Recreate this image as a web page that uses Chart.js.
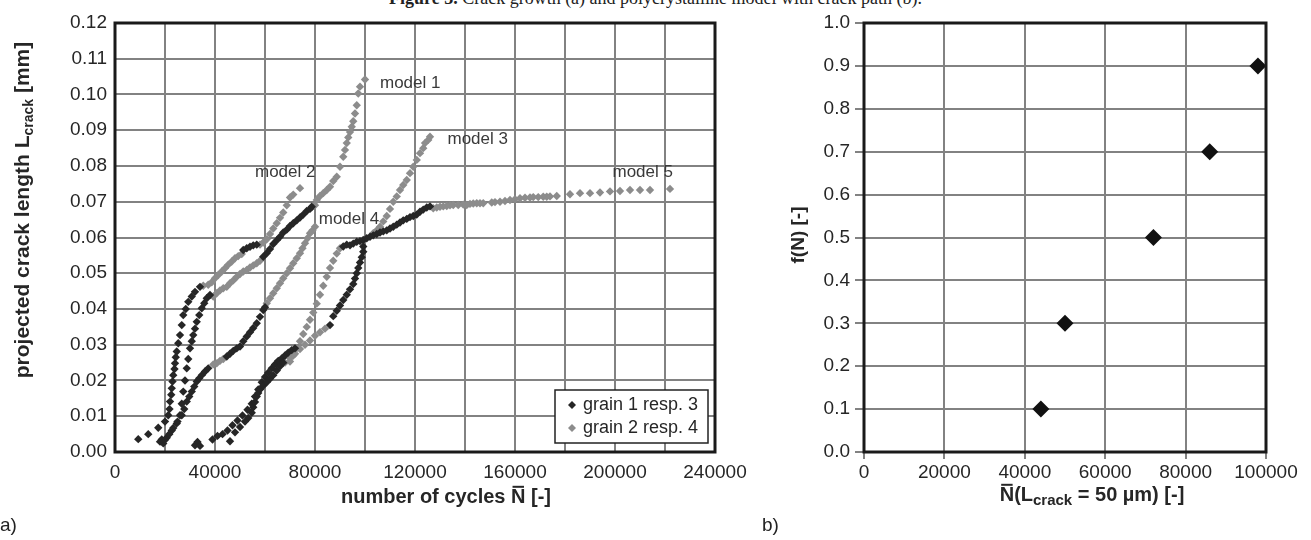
<!DOCTYPE html>
<html>
<head>
<meta charset="utf-8">
<script src="https://cdn.jsdelivr.net/npm/chart.js@4"></script>
<style>
  body { margin: 0; background: #fff; width: 1311px; height: 540px; overflow: hidden; position: relative; }
  #caption { position: absolute; left: 0; top: -12px; width: 1311px; text-align: center;
             font-family: "Liberation Serif", serif; font-size: 18px; color: #222; white-space: nowrap; }
  #wrapA { position: absolute; left: 0; top: 0; }
  #wrapB { position: absolute; left: 760px; top: 0; }
  .tag { position: absolute; font-family: "Liberation Sans", Arial, sans-serif; font-size: 19px; color: #222; }
</style>
</head>
<body>
<div id="caption"><b>Figure 3.</b> Crack growth (a) and polycrystalline model with crack path (b).</div>
<div id="wrapA"><canvas id="chartA" width="760" height="540"></canvas></div>
<div id="wrapB"><canvas id="chartB" width="551" height="540"></canvas></div>
<div class="tag" style="left:0px; top:514px;">a)</div>
<div class="tag" style="left:762px; top:514px;">b)</div>
<script>
// ---- panel a: crack length vs cycles, one array per curve segment ----
// dark = grain 1 resp. 3
const m1g1 = [[9300,0.0036],[13300,0.005],[17300,0.0068],[20000,0.0085],[21300,0.0103],[21800,0.012],[22000,0.0141],[22500,0.016],[22700,0.0178],[23000,0.0197],[23300,0.0215],[23800,0.0232],[24000,0.0248],[24300,0.0265],[24700,0.0281],[25300,0.0304],[26000,0.0327],[26700,0.0355],[27300,0.0383],[28300,0.040],[29300,0.042],[30700,0.0435],[32000,0.0448],[34000,0.0462]];
const m2g1 = [[18000,0.0029],[19300,0.0024],[18700,0.0035],[20700,0.004],[22700,0.006],[24700,0.008],[26000,0.0103],[26700,0.0135],[27300,0.0169],[28000,0.020],[28700,0.0234],[29300,0.026],[30000,0.029],[30700,0.031],[31300,0.0327],[32000,0.0345],[32700,0.0364],[33700,0.0383],[34700,0.0402],[35700,0.0416],[36700,0.043],[38000,0.0439]];
const m4g1 = [[20000,0.0034],[21700,0.005],[23300,0.0067],[25000,0.0085],[26700,0.0103],[27700,0.012],[28700,0.0141],[29700,0.0155],[30700,0.0169],[31700,0.0183],[32700,0.0197],[33700,0.0206],[34700,0.0215],[36000,0.0225],[37300,0.0234]];
const m4g3 = [[44700,0.0267],[46000,0.0275],[47300,0.0283],[48700,0.029],[50000,0.0295],[51300,0.031],[52700,0.0323],[54000,0.0335],[55300,0.0347],[56700,0.036],[58000,0.0378],[59300,0.0397],[60000,0.0405]];
const m2g3 = [[51300,0.0565],[52700,0.057],[54000,0.0574],[55300,0.0578],[56700,0.058]];
const m1g3 = [[59300,0.0546],[60700,0.0556],[62000,0.0568],[63300,0.0582],[64700,0.0592],[66000,0.0602],[67300,0.0614],[68700,0.0622],[70000,0.0632],[71300,0.064],[72700,0.0648],[74000,0.0656],[75300,0.0664],[76700,0.0674],[78000,0.068],[78700,0.0686]];
const m3g1 = [[32000,0.0019],[33000,0.0028],[34000,0.0017],[39000,0.0035],[41000,0.0045],[43000,0.005],[45000,0.006],[47000,0.0075],[49000,0.0088],[51000,0.0102],[53000,0.0118],[54700,0.0135],[56000,0.0155],[57300,0.0175],[58700,0.0195],[60000,0.021],[61300,0.0222],[62700,0.0234],[64000,0.0245],[65300,0.0255],[66700,0.0262],[68000,0.027],[69300,0.0278],[70700,0.0285],[72000,0.029]];
const m5g1 = [[46000,0.003],[48000,0.0055],[50000,0.007],[52000,0.0085],[53300,0.0095],[54700,0.011],[55300,0.0125],[56000,0.014],[56700,0.0155],[57300,0.0165],[58000,0.0175],[59300,0.0185],[60700,0.0195],[62000,0.0205],[63300,0.0215],[64700,0.0228],[66000,0.024],[67300,0.025]];
const m5g3 = [[86000,0.0355],[87300,0.038],[88700,0.0395],[90000,0.041],[91300,0.0425],[92700,0.044],[94000,0.0455],[95300,0.047],[96000,0.0485],[96700,0.050],[97300,0.0515],[98000,0.053],[98700,0.0545],[99300,0.056],[99300,0.0575]];
const m3g3 = [[91300,0.0575],[92700,0.058],[94000,0.0578],[95300,0.0583],[96700,0.0588],[98000,0.059],[99300,0.0593],[100700,0.0598],[102000,0.0602],[103300,0.0606],[104700,0.061],[106000,0.0614],[107300,0.0617],[108700,0.062],[110000,0.0625],[111300,0.063],[112700,0.0636],[114000,0.0642],[115300,0.0648],[116700,0.0652],[118000,0.0657],[119300,0.066],[120700,0.0664],[122000,0.0672],[123300,0.0678],[124700,0.0684],[126000,0.0687]];
// gray = grain 2 resp. 4
const m1g2 = [[35300,0.0465],[37300,0.0468],[38700,0.0475],[40000,0.0486],[41300,0.0495],[42700,0.0505],[44000,0.0514],[45300,0.0524],[46700,0.0533],[48000,0.0542],[49300,0.0548],[50700,0.0554]];
const m2g2 = [[39300,0.0435],[40700,0.0444],[42000,0.0452],[43300,0.0458],[44700,0.0462],[46000,0.0472],[47300,0.048],[48700,0.049],[50000,0.0498],[51300,0.0505],[52700,0.0509],[54000,0.0516],[55300,0.0522],[56700,0.0528],[58000,0.0535]];
const m4g2 = [[39300,0.0245],[40700,0.0248],[42000,0.0255],[43300,0.026]];
const m2g4 = [[58000,0.058],[59300,0.0586],[60700,0.0595],[62000,0.061],[63300,0.0625],[64700,0.064],[66000,0.0655],[67300,0.067],[68700,0.069],[70000,0.0712],[71300,0.072],[74000,0.0738]];
const m4g4 = [[60700,0.0416],[62000,0.043],[63300,0.0444],[64700,0.0458],[66000,0.0472],[67300,0.0486],[68700,0.05],[70000,0.0514],[71300,0.0528],[72700,0.0542],[74000,0.0556],[75000,0.057],[76000,0.0584],[77000,0.0598],[78000,0.0612],[79000,0.062],[80000,0.063]];
const m1g4 = [[80000,0.069],[80700,0.0705],[82000,0.0716],[83300,0.0724],[84700,0.0733],[86000,0.0742],[87300,0.0758],[88700,0.077],[90000,0.0798],[91300,0.0826],[92000,0.0845],[92700,0.0864],[93300,0.088],[94000,0.0895],[94700,0.091],[95300,0.0925],[96000,0.0947],[96700,0.097],[97300,0.1003],[98000,0.1022],[100000,0.1042]];
const m3g2 = [[70000,0.0253],[71300,0.027],[72700,0.029],[74000,0.031],[75300,0.033],[76700,0.035],[78000,0.037],[79300,0.039],[80700,0.0415],[82000,0.044],[83300,0.0465],[84700,0.049],[86000,0.0515],[87300,0.0535],[88700,0.0555],[90000,0.057]];
const m5g2 = [[68000,0.025],[70000,0.0262],[72000,0.0275],[74000,0.0288],[76000,0.030],[78000,0.0312],[80000,0.0325],[82000,0.0335],[84000,0.0345]];
const m3g4 = [[103300,0.0612],[104700,0.062],[106000,0.063],[107300,0.0645],[108700,0.066],[110000,0.068],[111300,0.070],[112700,0.0715],[114000,0.0733],[115300,0.0747],[116700,0.0761],[118000,0.078],[119300,0.0798],[120700,0.0817],[122000,0.0836],[123300,0.085],[124000,0.0864],[125300,0.0873],[126000,0.0882]];
const m5g4 = [[127300,0.0682],[128700,0.0684],[130000,0.0686],[131300,0.0687],[132700,0.0688],[134000,0.069],[135300,0.0691],[137300,0.0691],[139300,0.0692],[140700,0.0691],[142000,0.0694],[143300,0.0695],[144700,0.0696],[146000,0.0696],[147300,0.0696],[150700,0.0698],[152000,0.0699],[154000,0.070],[156000,0.0702],[158000,0.0705],[160000,0.0707],[162000,0.071],[164000,0.0711],[166000,0.0712],[167300,0.0713],[169300,0.0713],[171300,0.0714],[172700,0.0714],[174000,0.0715],[176700,0.0716],[182000,0.0721],[186000,0.0724],[190000,0.0724],[194000,0.0726],[198000,0.0729],[202000,0.073],[206000,0.0733],[210000,0.0733],[214000,0.0733],[222000,0.0736]];

const darkCurves = [m1g1, m2g1, m4g1, m4g3, m2g3, m1g3, m3g1, m5g1, m5g3, m3g3];
const grayCurves = [m1g2, m2g2, m4g2, m2g4, m4g4, m1g4, m3g2, m5g2, m3g4, m5g4];

const seriesNames = ['grain 1 resp. 3', 'grain 2 resp. 4'];
const xGridA = [0,20000,40000,60000,80000,100000,120000,140000,160000,180000,200000,220000,240000];
const xLabelsA = [0,40000,80000,120000,160000,200000,240000];
const yTicksA = [0,0.01,0.02,0.03,0.04,0.05,0.06,0.07,0.08,0.09,0.10,0.11,0.12];

// curve labels (anchor in data units, text starts there)
const modelNames = ['model 1','model 2','model 3','model 4','model 5'];
const modelAnchors = [[106000,0.1032],[56000,0.0783],[133000,0.0874],[81500,0.0652],[199000,0.0782]];

// ---- panel b ----
const nCrack50 = [44000, 50000, 72000, 86000, 98000];
const fN = [0.1, 0.3, 0.5, 0.7, 0.9];
const xTicksB = [0,20000,40000,60000,80000,100000];
const yTicksB = [0,0.1,0.2,0.3,0.4,0.5,0.6,0.7,0.8,0.9,1.0];

const SANS = '"Liberation Sans", Arial, sans-serif';
const DARK = '#262626', GRAY = '#8c8c8c', GRID = '#828282', TXT = '#262626';

function toPts(curves) {
  return curves.flat().map(([x, y]) => ({x, y}));
}

// text in pieces, for bars and subscripts; y = baseline
function drawRich(ctx, parts, x, y, align, rot) {
  ctx.save();
  ctx.translate(x, y);
  if (rot) ctx.rotate(rot);
  const fnt = p => (p.bold ? 'bold ' : '') + p.size + 'px ' + SANS;
  let w = 0;
  parts.forEach(p => { ctx.font = fnt(p); w += ctx.measureText(p.t).width; });
  let cx = align === 'center' ? -w / 2 : 0;
  ctx.fillStyle = TXT;
  ctx.textBaseline = 'alphabetic';
  ctx.textAlign = 'left';
  parts.forEach(p => {
    ctx.font = fnt(p);
    const pw = ctx.measureText(p.t).width;
    ctx.fillText(p.t, cx, p.dy || 0);
    if (p.bar) ctx.fillRect(cx + 1.5, -p.size * 0.86, pw - 3, 2);
    cx += pw;
  });
  ctx.restore();
}

const framePlugin = {
  id: 'frame',
  afterDraw(chart) {
    const a = chart.chartArea, ctx = chart.ctx;
    ctx.save();
    ctx.strokeStyle = '#1a1a1a';
    ctx.lineWidth = 3;
    ctx.strokeRect(a.left, a.top, a.right - a.left, a.bottom - a.top);
    ctx.restore();
  }
};

const extrasA = {
  id: 'extrasA',
  afterDraw(chart) {
    const ctx = chart.ctx, xs = chart.scales.x, ys = chart.scales.y;
    // model labels
    ctx.save();
    ctx.font = '17px ' + SANS;
    ctx.fillStyle = '#3a3a3a';
    ctx.textBaseline = 'middle';
    modelNames.forEach((m, i) => {
      ctx.fillText(m, xs.getPixelForValue(modelAnchors[i][0]), ys.getPixelForValue(modelAnchors[i][1]));
    });
    // legend box
    const bx = 555, by = 390, bw = 153, bh = 53;
    ctx.fillStyle = '#fff';
    ctx.fillRect(bx, by, bw, bh);
    ctx.strokeStyle = '#222';
    ctx.lineWidth = 1.5;
    ctx.strokeRect(bx, by, bw, bh);
    ctx.font = '18px ' + SANS;
    chart.data.datasets.forEach((ds, i) => {
      const cy = by + 15 + i * 23;
      ctx.fillStyle = ds.backgroundColor;
      ctx.beginPath();
      ctx.moveTo(572, cy - 4); ctx.lineTo(576, cy); ctx.lineTo(572, cy + 4); ctx.lineTo(568, cy);
      ctx.closePath(); ctx.fill();
      ctx.fillStyle = TXT;
      ctx.fillText(ds.label, 583, cy);
    });
    ctx.restore();
    drawRich(ctx, [
      {t: 'number of cycles ', size: 20, bold: true},
      {t: 'N', size: 20, bold: true, bar: true},
      {t: ' [-]', size: 20, bold: true}
    ], 446, 503, 'center');
    drawRich(ctx, [
      {t: 'projected crack length L', size: 21, bold: true},
      {t: 'crack', size: 14, bold: true, dy: 4},
      {t: ' [mm]', size: 21, bold: true}
    ], 29, 210, 'center', -Math.PI / 2);
  }
};

const extrasB = {
  id: 'extrasB',
  afterDraw(chart) {
    const ctx = chart.ctx;
    drawRich(ctx, [
      {t: 'N', size: 20, bold: true, bar: true},
      {t: '(L', size: 20, bold: true},
      {t: 'crack', size: 15, bold: true, dy: 4},
      {t: ' = 50 \u00b5m) [-]', size: 20, bold: true}
    ], 332, 501, 'center');
    drawRich(ctx, [{t: 'f(N) [-]', size: 19, bold: true}], 44, 235, 'center', -Math.PI / 2);
  }
};

function axisStyle(extra) {
  return Object.assign({
    type: 'linear',
    border: {display: false},
    ticks: {autoSkip: false, maxRotation: 0, color: TXT, font: {family: SANS, size: 19}}
  }, extra);
}

new Chart(document.getElementById('chartA'), {
  type: 'scatter',
  data: {
    datasets: [
      {label: seriesNames[0], data: toPts(darkCurves), backgroundColor: DARK, borderColor: DARK,
       pointStyle: 'rectRot', pointRadius: 4.2, borderWidth: 0},
      {label: seriesNames[1], data: toPts(grayCurves), backgroundColor: GRAY, borderColor: GRAY,
       pointStyle: 'rectRot', pointRadius: 4.2, borderWidth: 0}
    ]
  },
  options: {
    responsive: false, animation: false,
    layout: {padding: {left: 0, right: 45, top: 23, bottom: 0}},
    plugins: {legend: {display: false}, tooltip: {enabled: false}},
    scales: {
      x: axisStyle({
        min: 0, max: 240000,
        afterBuildTicks: s => { s.ticks = xGridA.map(v => ({value: v})); },
        afterFit: s => { s.height = 88; },
        grid: {color: GRID, lineWidth: 2, drawTicks: false},
        ticks: {autoSkip: false, maxRotation: 0, color: TXT, padding: 9, font: {family: SANS, size: 19},
                callback: v => xLabelsA.includes(v) ? String(v) : ''}
      }),
      y: axisStyle({
        min: 0, max: 0.12,
        afterBuildTicks: s => { s.ticks = yTicksA.map(v => ({value: v})); },
        afterFit: s => { s.width = 115; },
        grid: {color: GRID, lineWidth: 2, drawTicks: false},
        ticks: {autoSkip: false, color: TXT, padding: 8, font: {family: SANS, size: 19},
                callback: v => v.toFixed(2)}
      })
    }
  },
  plugins: [framePlugin, extrasA]
});

new Chart(document.getElementById('chartB'), {
  type: 'scatter',
  data: {
    datasets: [{
      label: 'f(N)',
      data: nCrack50.map((n, i) => ({x: n, y: fN[i]})),
      backgroundColor: '#111', borderColor: '#111',
      pointStyle: 'rectRot', pointRadius: 8.5, borderWidth: 0
    }]
  },
  options: {
    responsive: false, animation: false,
    layout: {padding: {left: 0, right: 45, top: 23, bottom: 0}},
    plugins: {legend: {display: false}, tooltip: {enabled: false}},
    scales: {
      x: axisStyle({
        min: 0, max: 100000,
        afterBuildTicks: s => { s.ticks = xTicksB.map(v => ({value: v})); },
        afterFit: s => { s.height = 88; },
        grid: {color: GRID, lineWidth: 2, tickLength: 7, tickColor: GRID},
        ticks: {autoSkip: false, maxRotation: 0, color: TXT, padding: 2, font: {family: SANS, size: 19},
                callback: v => String(v)}
      }),
      y: axisStyle({
        min: 0, max: 1,
        afterBuildTicks: s => { s.ticks = yTicksB.map(v => ({value: v})); },
        afterFit: s => { s.width = 104; },
        grid: {color: GRID, lineWidth: 2, tickLength: 9, tickColor: GRID},
        ticks: {autoSkip: false, color: TXT, padding: 5, font: {family: SANS, size: 19},
                callback: v => v.toFixed(1)}
      })
    }
  },
  plugins: [framePlugin, extrasB]
});
</script>
</body>
</html>
